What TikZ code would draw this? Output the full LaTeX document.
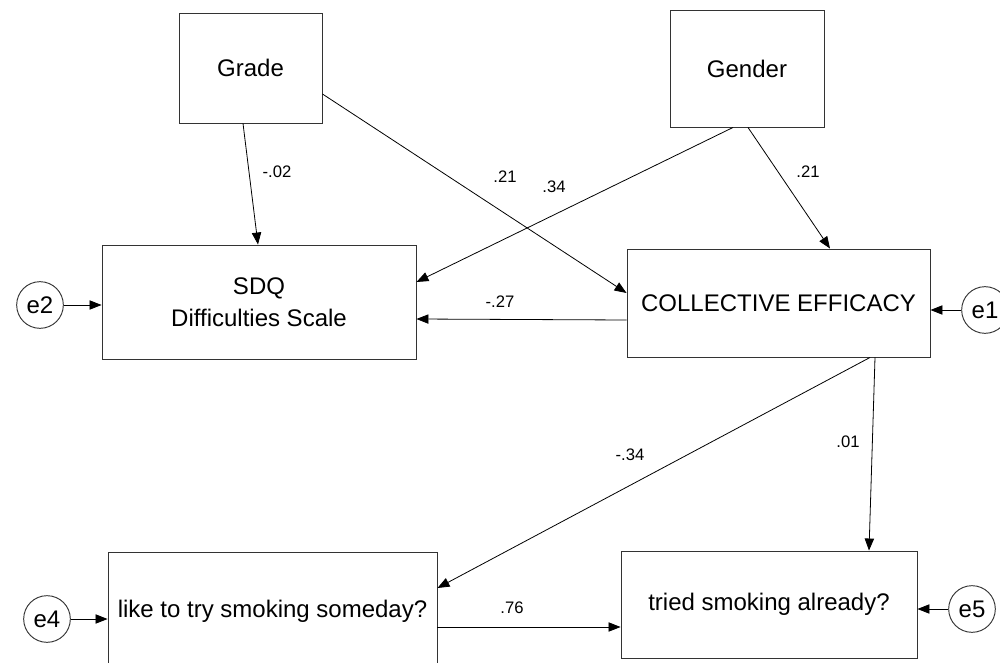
\documentclass[tikz,border=0pt]{standalone}
\usepackage{fontspec}
\setmainfont{Liberation Sans}
\usetikzlibrary{arrows.meta, calc}

\begin{document}
\begin{tikzpicture}[
    x=0.75pt, y=-0.75pt,
    var/.style={draw=black!80, line width=0.7pt, rectangle, align=center,
                font=\fontsize{18}{24}\selectfont, inner sep=2pt},
    err/.style={draw=black!80, line width=0.7pt, circle, minimum size=35pt,
                inner sep=0pt, font=\fontsize{18}{22}\selectfont},
    lbl/.style={font=\fontsize{12.5}{15}\selectfont, inner sep=1pt},
    path/.style={draw, line width=0.6pt, -{Triangle[length=9pt, width=7pt]}},
]
    \useasboundingbox (0,0) rectangle (1000,663);

    %==================== OBSERVED VARIABLES ====================
    \node[var, minimum width=107.25pt, minimum height=82.5pt] (grade) at (250.5,68) {Grade};
    \node[var, minimum width=115.5pt, minimum height=87.75pt] (gender) at (747,68.5) {Gender};
    \node[var, minimum width=235.5pt, minimum height=85.5pt] (sdq) at (259,302)
        {SDQ\\Difficulties Scale};
    \node[var, minimum width=227.25pt, minimum height=81pt] (ce) at (778.5,303)
        {COLLECTIVE EFFICACY};
    \node[var, minimum width=246.75pt, minimum height=88.5pt] (like) at (272.5,611)
        {like to try smoking someday?};
    \node[var, minimum width=222pt, minimum height=80.25pt] (tried) at (769,604.5)
        {tried smoking already?};

    %==================== ERROR TERMS ====================
    \node[err] (e1) at (985,310) {e1};
    \node[err] (e2) at (40,305) {e2};
    \node[err] (e4) at (47,619) {e4};
    \node[err] (e5) at (972,609) {e5};

    \draw[path] (e1) -- (e1 -| ce.east);
    \draw[path] (e2) -- (e2 -| sdq.west);
    \draw[path] (e4) -- (e4 -| like.west);
    \draw[path] (e5) -- (e5 -| tried.east);

    %==================== STRUCTURAL PATHS ====================
    \draw[path] ($(grade.south)+(-7.5,0)$) -- ($(sdq.north)+(-1,0)$);
    \draw[path] ($(grade.east)+(0,26)$) -- ($(ce.west)+(0,-10)$);
    \draw[path] ($(gender.south)+(-14,0)$) -- ($(sdq.east)+(0,-20)$);
    \draw[path] ($(gender.south)+(1,0)$) -- ($(ce.north)+(51.5,0)$);
    \draw[path] ($(ce.west)+(0,17)$) -- ($(sdq.east)+(0,17)$);
    \draw[path] ($(ce.south)+(91.5,0)$) -- ($(like.east)+(0,-23)$);
    \draw[path] ($(ce.south)+(96.5,0)$) -- ($(tried.north)+(100,0)$);
    \draw[path] ($(like.east)+(0,16)$) -- ($(tried.west)+(0,22.5)$);

    %==================== COEFFICIENTS ====================
    \node[lbl] (w1) at (277,172) {-.02};
    \node[lbl] (w2) at (505,177) {.21};
    \node[lbl] (w3) at (554,187) {.34};
    \node[lbl] (w4) at (808,172) {.21};
    \node[lbl] (w5) at (500,302) {-.27};
    \node[lbl] (w6) at (630,455) {-.34};
    \node[lbl] (w7) at (848,442) {.01};
    \node[lbl] (w8) at (512,608) {.76};

\end{tikzpicture}
\end{document}
